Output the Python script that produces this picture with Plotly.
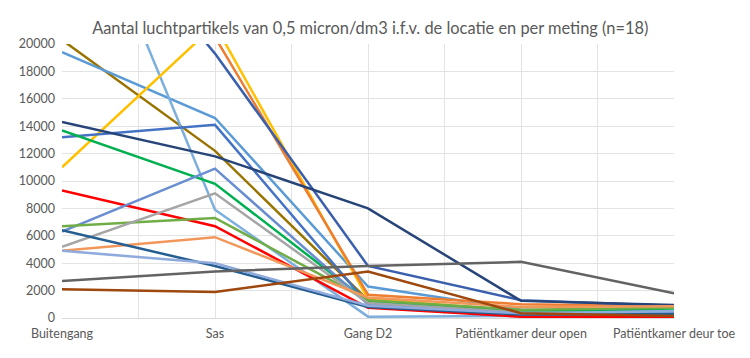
import plotly.graph_objects as go

categories = ["Buitengang", "Sas", "Gang D2", "Patiëntkamer deur open", "Patiëntkamer deur toe"]

# one list per measurement (n=18), values in particles / dm3
meting_01 = [20300, 12200, 1300, 300, 150]
meting_02 = [19400, 14600, 2300, 600, 450]
meting_03 = [35000, 7900, 100, 150, 100]
meting_04 = [11000, 21400, 1400, 500, 300]
meting_05 = [26000, 20500, 1700, 1000, 850]
meting_06 = [32800, 19300, 3800, 1300, 900]
meting_07 = [13200, 14100, 1000, 400, 400]
meting_08 = [14300, 11800, 8000, 1250, 950]
meting_09 = [13700, 9800, 1200, 500, 700]
meting_10 = [9300, 6700, 750, 100, 100]
meting_11 = [6300, 10900, 1000, 300, 400]
meting_12 = [6700, 7300, 1300, 600, 750]
meting_13 = [5200, 9100, 1100, 400, 250]
meting_14 = [4900, 5900, 1500, 800, 850]
meting_15 = [6400, 3800, 800, 250, 300]
meting_16 = [4900, 4000, 900, 350, 500]
meting_17 = [2700, 3400, 3800, 4100, 1800]
meting_18 = [2100, 1900, 3400, 350, 150]

series = [meting_01, meting_02, meting_03, meting_04, meting_05, meting_06,
          meting_07, meting_08, meting_09, meting_10, meting_11, meting_12,
          meting_13, meting_14, meting_15, meting_16, meting_17, meting_18]
colors = ["#997300", "#5B9BD5", "#7CAFDD", "#FFC000", "#ED7D31", "#3A5FAD",
          "#4472C4", "#264478", "#00B050", "#FF0000", "#698ED0", "#70AD47",
          "#A5A5A5", "#F1975A", "#255E91", "#8FAADC", "#636363", "#9E480E"]

y_ticks = list(range(0, 20001, 2000))
y_labels = [str(v) for v in y_ticks]

x_pos = list(range(len(categories)))
fig = go.Figure()
for i, (vals, col) in enumerate(zip(series, colors)):
    fig.add_trace(go.Scatter(x=x_pos, y=vals, mode="lines",
                             line=dict(color=col, width=2.5),
                             name=f"Meting {i+1}", showlegend=False))

tickvals = []
ticktext = []
for i, c in enumerate(categories):
    tickvals.append(i)
    ticktext.append(c)
    if i < len(categories) - 1:
        tickvals.append(i + 0.5)
        ticktext.append("")

grid = "#E3E3E3"
fig.update_layout(
    width=750, height=358,
    margin=dict(l=54, r=84, t=36, b=48, autoexpand=False),
    paper_bgcolor="white", plot_bgcolor="white",
    font=dict(family="Lato", color="#595959", size=13),
    title=dict(text="Aantal luchtpartikels van 0,5 micron/dm3 i.f.v. de locatie en per meting (n=18)",
               x=0.483, xanchor="center", y=0.944, yanchor="middle",
               font=dict(size=16.4, color="#595959", family="Lato")),
    xaxis=dict(range=[0, 4], tickvals=tickvals, ticktext=ticktext, automargin=False,
               showgrid=True, gridcolor=grid, gridwidth=1, zeroline=False,
               showline=False, ticks="", tickfont=dict(size=12.5), ticklabelstandoff=6),
    yaxis=dict(range=[0, 20000], tickvals=y_ticks, ticktext=y_labels, automargin=False,
               showgrid=True, gridcolor=grid,
               gridwidth=1, zeroline=True, zerolinecolor="#D9D9D9", zerolinewidth=1,
               showline=False, ticks="", tickfont=dict(size=12.5), ticklabelstandoff=6),
)
fig.write_html("out.html")
